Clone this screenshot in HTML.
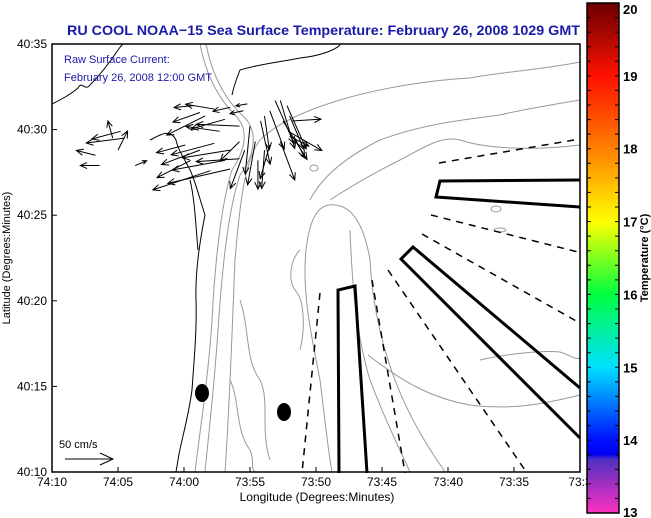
<!DOCTYPE html>
<html><head><meta charset="utf-8">
<style>
html,body{margin:0;padding:0;background:#fff;}
svg{display:block;font-family:"Liberation Sans",sans-serif;}
</style></head>
<body>
<svg id="map" width="651" height="518" viewBox="0 0 651 518" xmlns="http://www.w3.org/2000/svg">
<defs>
<linearGradient id="cbar" x1="0" y1="0" x2="0" y2="1">
<stop offset="0" stop-color="#6a0000"/>
<stop offset="0.143" stop-color="#ff1000"/>
<stop offset="0.286" stop-color="#ff8000"/>
<stop offset="0.429" stop-color="#ffff00"/>
<stop offset="0.571" stop-color="#00ff40"/>
<stop offset="0.714" stop-color="#00e0ff"/>
<stop offset="0.857" stop-color="#0010ff"/>
<stop offset="0.885" stop-color="#0000f0"/>
<stop offset="0.895" stop-color="#5030c0"/>
<stop offset="1" stop-color="#ff30c0"/>
</linearGradient>
</defs>
<rect width="651" height="518" fill="#fff"/>
<text x="67" y="35" font-size="14" font-weight="bold" fill="#1a1aa8" textLength="513" lengthAdjust="spacingAndGlyphs">RU COOL  NOAA−15  Sea Surface Temperature:  February 26, 2008 1029 GMT</text>

<g id="contours" fill="none" stroke="#999" stroke-width="1">
<path d="M200,44 C205,70 215,95 235,115 C250,130 245,150 232,170 C222,200 215,260 212,320 C208,380 200,430 195,472"/>
<path d="M206,44 C212,75 225,100 245,118 C258,132 255,155 240,175 C228,210 222,270 218,330 C214,390 208,440 205,472"/>
<path d="M580,62 C540,70 500,72 470,78 C430,80 380,88 340,100 C300,112 275,125 260,140 C245,160 240,200 235,260 C232,330 230,400 225,472"/>
<path d="M580,100 C550,105 520,110 500,115 C460,120 420,125 380,140 C340,160 320,180 310,200"/>
<path d="M580,145 C540,150 490,150 460,140 C440,135 420,150 400,160 C370,175 345,190 330,200"/>
<path d="M340,206 C320,200 310,215 306,250 C302,290 310,330 320,380 C325,420 328,450 332,472"/>
<path d="M340,206 C355,210 365,230 370,260 C372,300 380,340 395,380 C410,420 430,450 445,472"/>
<path d="M350,230 C352,280 355,330 370,380 C385,420 400,450 410,472"/>
<path d="M368,355 C400,380 430,398 470,405 C510,410 540,405 580,395"/>
<path d="M300,250 C290,260 288,280 295,290 C305,300 305,330 300,350"/>
<path d="M240,300 C250,330 245,360 260,380 C270,400 260,430 270,460"/>
<path d="M230,380 C240,400 235,430 250,450 C255,460 250,468 255,472"/>
<path d="M480,360 C500,355 540,350 560,352 C570,355 575,360 580,358"/>
<ellipse cx="314" cy="168" rx="4" ry="3"/><ellipse cx="496" cy="209" rx="5" ry="3"/><ellipse cx="500" cy="230" rx="6" ry="2"/>
</g>

<g id="coast" fill="none" stroke="#000" stroke-width="1">
<path d="M52,104 C60,100 70,95 78,88 C82,80 85,92 90,85 C100,75 110,62 118,50 C120,47 122,45 123,44"/>
<path d="M190,170 C195,180 200,200 205,215 C200,240 195,270 196,300 C197,330 194,360 192,390 C188,420 180,445 178,460 L176,472"/>
<path d="M190,170 C185,160 178,150 176,140 C170,128 160,135 150,140"/>
<path d="M232,95 C234,85 238,75 240,70 C255,65 280,62 300,58 C320,56 335,50 340,45"/>
<path d="M190,180 C195,200 196,230 198,250"/>
</g>

<g id="zones" fill="none" stroke="#000">
<path d="M580,180 L440,181 L436,197 L580,207" stroke-width="3"/>
<path d="M580,388 L413,247 L401,259 L580,438" stroke-width="3"/>
<path d="M339,473 L338,290 L355,286 L367,473" stroke-width="3"/>
<g stroke-width="1.5" stroke-dasharray="7,6">
<line x1="439" y1="163" x2="580" y2="139"/>
<line x1="431" y1="215" x2="578" y2="252"/>
<line x1="422" y1="234" x2="578" y2="322"/>
<line x1="388" y1="270" x2="527" y2="473"/>
<line x1="372" y1="280" x2="405" y2="473"/>
<line x1="320" y1="293" x2="302" y2="473"/>
</g>
</g>

<ellipse cx="202" cy="393" rx="7" ry="9" fill="#000"/>
<ellipse cx="284" cy="412" rx="7" ry="9" fill="#000"/>

<g id="arrows" stroke="#000" stroke-width="1" fill="none"></g>

<g>
<text x="59" y="448" font-size="11" fill="#000">50 cm/s</text>
<line x1="65" y1="459" x2="113" y2="459" stroke="#000"/>
<path d="M100,453 L113,459 L100,465" stroke="#000" fill="none"/>
</g>

<g font-size="11" fill="#1a1aa8">
<text x="64" y="63">Raw Surface Current:</text>
<text x="64" y="81">February 26, 2008 12:00 GMT</text>
</g>

<rect x="52" y="44" width="528" height="428" fill="none" stroke="#000" stroke-width="1.5"/>
<g id="xaxis"></g>
<g id="yaxis"></g>
<text x="317" y="501" font-size="12" text-anchor="middle">Longitude (Degrees:Minutes)</text>
<text transform="translate(10,258) rotate(-90)" font-size="11" text-anchor="middle">Latitude (Degrees:Minutes)</text>

<rect x="587" y="3" width="32" height="510" fill="url(#cbar)" stroke="#000" stroke-width="1.5"/>
<g id="cbticks"></g>
<text transform="translate(648,258) rotate(-90)" font-size="11" font-weight="bold" text-anchor="middle">Temperature (°C)</text>
</svg>
<script>
// Map axes (minutes east of 74:10 W, minutes north of 40:10 N)
const lonTickLabels = ["74:10","74:05","74:00","73:55","73:50","73:45","73:40","73:35","73:3"];
const latTickLabels = ["40:10","40:15","40:20","40:25","40:30","40:35"];
const cbarLabels = [13,14,15,16,17,18,19,20];
// Current vectors: position (minutes) and velocity components (cm/s)
const arrowLon = [10.7,12.3,13.5,11.6,13.1,14.2,12.7,11.2,14.8,14.5,12.3,13.5,11.2,10.5,13.1,14.2,12.0,13.5,10.1,14.2,5.2,5.5,4.6,5.0,3.3,3.6,6.3,16.1,15.8,16.5,16.9,17.3,17.8,17.5,18.0,15.0,15.4,16.1,16.5,14.6,15.6,17.9,18.2,18.0,17.3,18.4];
const arrowLat = [21.4,21.2,21.3,20.8,20.6,20.2,19.9,21.0,21.5,21.1,19.2,18.8,18.8,18.2,18.2,18.3,17.6,17.7,19.1,19.3,19.9,19.5,19.5,18.8,18.5,17.9,17.9,20.8,20.5,21.1,21.7,21.7,21.4,20.5,20.8,20.2,19.3,18.8,19.1,18.8,18.2,19.9,20.5,19.6,19.3,19.5];
const arrowU = [-20,-30,-18,-40,-35,-45,-35,-28,-12,-14,-45,-50,-40,-35,-55,-45,-60,-65,-30,-20,-30,-40,-5,10,-20,-20,12,5,10,15,20,15,20,25,15,-5,-8,-3,-10,-15,0,35,30,20,15,10];
const arrowV = [-2,5,-4,-20,-10,2,5,-10,-2,-3,-12,-8,-15,-18,-10,-3,-20,-15,-8,-20,-8,-5,18,20,5,0,5,-35,-45,-40,-45,-50,-45,-40,-35,-50,-45,-40,-35,-40,-30,-20,2,-10,-40,-20];

const X0=52, X1=580, Y0=472, Y1=44;
const pxPerLonMin=(X1-X0)/40, pxPerLatMin=(Y0-Y1)/25;
const xScale=m=>X0+m*pxPerLonMin;
const yScale=n=>Y0-n*pxPerLatMin;
const velScale=0.96;
const NS="http://www.w3.org/2000/svg";

const ag=document.getElementById('arrows');
for(let i=0;i<arrowLon.length;i++){
  const x=xScale(arrowLon[i]), y=yScale(arrowLat[i]);
  const dx=arrowU[i]*velScale, dy=-arrowV[i]*velScale;
  const L=Math.hypot(dx,dy)||1, ux=dx/L, uy=dy/L, h=Math.min(7,L*0.35);
  const x2=x+dx, y2=y+dy;
  const p=document.createElementNS(NS,'path');
  p.setAttribute('d',`M${x},${y}L${x2},${y2}M${x2-h*ux+h*0.45*uy},${y2-h*uy-h*0.45*ux}L${x2},${y2}L${x2-h*ux-h*0.45*uy},${y2-h*uy+h*0.45*ux}`);
  
  
  ag.appendChild(p);
}

const xa=document.getElementById('xaxis');
lonTickLabels.forEach((lab,i)=>{
  const x=xScale(i*5);
  const t=document.createElementNS(NS,'line');
  t.setAttribute('x1',x);t.setAttribute('x2',x);t.setAttribute('y1',Y0);t.setAttribute('y2',Y0-5);
  t.setAttribute('stroke','#000');
  
  
  xa.appendChild(t);
  const tx=document.createElementNS(NS,'text');
  tx.setAttribute('x',x);tx.setAttribute('y',486);tx.setAttribute('font-size','12');tx.setAttribute('text-anchor','middle');
  tx.textContent=lab;
  
  
  xa.appendChild(tx);
});
const ya=document.getElementById('yaxis');
latTickLabels.forEach((lab,i)=>{
  const y=yScale(i*5);
  const t=document.createElementNS(NS,'line');
  t.setAttribute('x1',X0);t.setAttribute('x2',X0+5);t.setAttribute('y1',y);t.setAttribute('y2',y);
  t.setAttribute('stroke','#000');
  
  
  ya.appendChild(t);
  const tx=document.createElementNS(NS,'text');
  tx.setAttribute('x',47);tx.setAttribute('y',y+4);tx.setAttribute('font-size','12');tx.setAttribute('text-anchor','end');
  tx.textContent=lab;
  
  
  ya.appendChild(tx);
});

const cb=document.getElementById('cbticks');
const cTop=3,cBot=513,cMin=13,cMax=20;
const cScale=v=>cBot-(v-cMin)/(cMax-cMin)*(cBot-cTop);
for(let k=0;k<=35;k++){
  const y=cScale(cMin+k*0.2);
  const t=document.createElementNS(NS,'path');
  t.setAttribute('d',`M587,${y}h4M619,${y}h-4`);
  t.setAttribute('stroke','#000');
  
  
  cb.appendChild(t);
}
cbarLabels.forEach(v=>{
  const y=cScale(v);
  const tx=document.createElementNS(NS,'text');
  tx.setAttribute('x',623);tx.setAttribute('y',Math.min(Math.max(y+5,14),517));
  tx.setAttribute('font-size','13');tx.setAttribute('font-weight','bold');
  tx.textContent=v;
  
  
  cb.appendChild(tx);
});
</script>
</body></html>
